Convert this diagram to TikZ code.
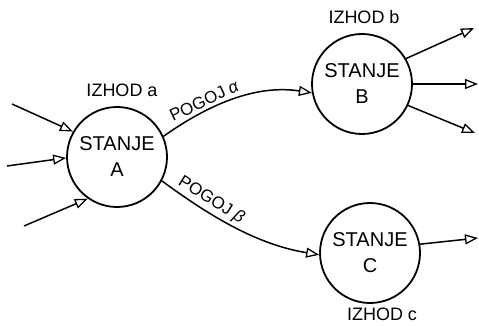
\documentclass[tikz,border=0pt]{standalone}
\usepackage{fontspec}
\setmainfont{Liberation Sans}
\usetikzlibrary{arrows.meta}
\begin{document}
\begin{tikzpicture}[x=1pt,y=-1pt,
  state/.style={draw,circle,line width=1.8pt,minimum size=100pt,inner sep=0pt,align=center,font=\fontsize{20}{26}\selectfont},
  lbl/.style={font=\fontsize{18}{20}\selectfont,inner sep=0pt},
  cond/.style={font=\fontsize{17}{20}\selectfont,inner sep=0pt},
  conn/.style={line width=1.5pt,-{Triangle[open,length=13pt,width=10pt,line width=1.3pt]}}]
\useasboundingbox (0,0) rectangle (479,326);
\node[state] (A) at (117,157) {STANJE\\A};
\node[state] (B) at (362,84) {STANJE\\B};
\node[state] (C) at (370,253) {STANJE\\C};
\node[lbl] (oa) at (122,90) {IZHOD a};
\node[lbl] (ob) at (364,17) {IZHOD b};
\node[lbl] (oc) at (382,314) {IZHOD c};
\coordinate (i1) at (12,104);
\coordinate (i2) at (7,166);
\coordinate (i3) at (24,226);
\draw[conn] (i1) -- (A.150);
\draw[conn] (i2) -- (A.181);
\draw[conn] (i3) -- (A.235);
\draw[conn] (A.24) .. controls (215,100) and (260,85) .. (B.190)
  node[pos=0.3,sloped,above=3pt,cond] (pa) {POGOJ \textit{α}};
\draw[conn] (A.-28) .. controls (215,220) and (260,245) .. (C.182)
  node[pos=0.28,sloped,above=3pt,cond] (pb) {POGOJ \textit{β}};
\coordinate (b1) at (474,28);
\coordinate (b2) at (478,84);
\coordinate (b3) at (475,133);
\coordinate (c1) at (478,238);
\draw[conn] (B.30) -- (b1);
\draw[conn] (B.0) -- (b2);
\draw[conn] (B.-25) -- (b3);
\draw[conn] (C.10) -- (c1);
\end{tikzpicture}
\end{document}
